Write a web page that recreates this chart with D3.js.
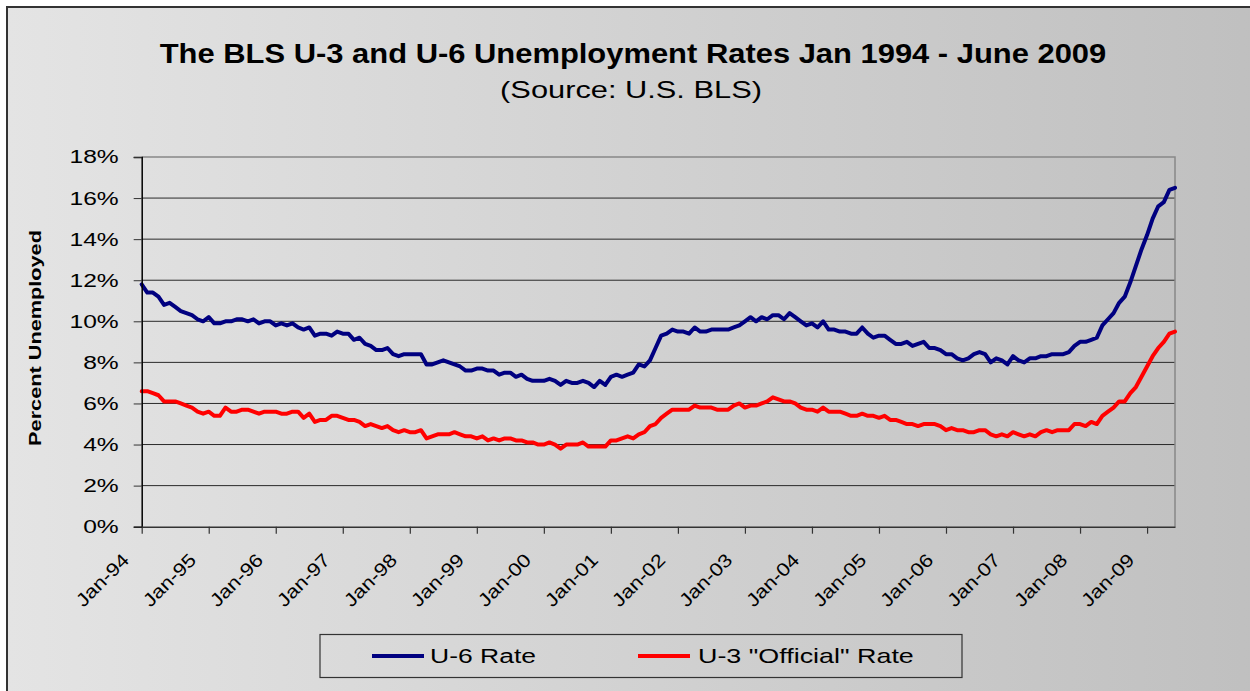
<!DOCTYPE html>
<html>
<head>
<meta charset="utf-8">
<script src="https://cdn.jsdelivr.net/npm/d3@7"></script>
<style>
  body { margin: 0; background: #fff; }
  svg text { font-family: "Liberation Sans", Arial, sans-serif; fill: #000; }
</style>
</head>
<body>
<svg id="chart" width="1250" height="691"></svg>
<script>
// monthly rates, Jan 1994 - Jun 2009 (percent)
const u6 = [
  11.8, 11.4, 11.4, 11.2, 10.8, 10.9, 10.7, 10.5, 10.4, 10.3, 10.1, 10.0,
  10.2, 9.9, 9.9, 10.0, 10.0, 10.1, 10.1, 10.0, 10.1, 9.9, 10.0, 10.0,
  9.8, 9.9, 9.8, 9.9, 9.7, 9.6, 9.7, 9.3, 9.4, 9.4, 9.3, 9.5,
  9.4, 9.4, 9.1, 9.2, 8.9, 8.8, 8.6, 8.6, 8.7, 8.4, 8.3, 8.4,
  8.4, 8.4, 8.4, 7.9, 7.9, 8.0, 8.1, 8.0, 7.9, 7.8, 7.6, 7.6,
  7.7, 7.7, 7.6, 7.6, 7.4, 7.5, 7.5, 7.3, 7.4, 7.2, 7.1, 7.1,
  7.1, 7.2, 7.1, 6.9, 7.1, 7.0, 7.0, 7.1, 7.0, 6.8, 7.1, 6.9,
  7.3, 7.4, 7.3, 7.4, 7.5, 7.9, 7.8, 8.1, 8.7, 9.3, 9.4, 9.6,
  9.5, 9.5, 9.4, 9.7, 9.5, 9.5, 9.6, 9.6, 9.6, 9.6, 9.7, 9.8,
  10.0, 10.2, 10.0, 10.2, 10.1, 10.3, 10.3, 10.1, 10.4, 10.2, 10.0, 9.8,
  9.9, 9.7, 10.0, 9.6, 9.6, 9.5, 9.5, 9.4, 9.4, 9.7, 9.4, 9.2,
  9.3, 9.3, 9.1, 8.9, 8.9, 9.0, 8.8, 8.9, 9.0, 8.7, 8.7, 8.6,
  8.4, 8.4, 8.2, 8.1, 8.2, 8.4, 8.5, 8.4, 8.0, 8.2, 8.1, 7.9,
  8.3, 8.1, 8.0, 8.2, 8.2, 8.3, 8.3, 8.4, 8.4, 8.4, 8.5, 8.8,
  9.0, 9.0, 9.1, 9.2, 9.8, 10.1, 10.4, 10.9, 11.2, 11.9, 12.7, 13.5,
  14.2, 15.0, 15.6, 15.8, 16.4, 16.5
];
const u3 = [
  6.6, 6.6, 6.5, 6.4, 6.1, 6.1, 6.1, 6.0, 5.9, 5.8, 5.6, 5.5,
  5.6, 5.4, 5.4, 5.8, 5.6, 5.6, 5.7, 5.7, 5.6, 5.5, 5.6, 5.6,
  5.6, 5.5, 5.5, 5.6, 5.6, 5.3, 5.5, 5.1, 5.2, 5.2, 5.4, 5.4,
  5.3, 5.2, 5.2, 5.1, 4.9, 5.0, 4.9, 4.8, 4.9, 4.7, 4.6, 4.7,
  4.6, 4.6, 4.7, 4.3, 4.4, 4.5, 4.5, 4.5, 4.6, 4.5, 4.4, 4.4,
  4.3, 4.4, 4.2, 4.3, 4.2, 4.3, 4.3, 4.2, 4.2, 4.1, 4.1, 4.0,
  4.0, 4.1, 4.0, 3.8, 4.0, 4.0, 4.0, 4.1, 3.9, 3.9, 3.9, 3.9,
  4.2, 4.2, 4.3, 4.4, 4.3, 4.5, 4.6, 4.9, 5.0, 5.3, 5.5, 5.7,
  5.7, 5.7, 5.7, 5.9, 5.8, 5.8, 5.8, 5.7, 5.7, 5.7, 5.9, 6.0,
  5.8, 5.9, 5.9, 6.0, 6.1, 6.3, 6.2, 6.1, 6.1, 6.0, 5.8, 5.7,
  5.7, 5.6, 5.8, 5.6, 5.6, 5.6, 5.5, 5.4, 5.4, 5.5, 5.4, 5.4,
  5.3, 5.4, 5.2, 5.2, 5.1, 5.0, 5.0, 4.9, 5.0, 5.0, 5.0, 4.9,
  4.7, 4.8, 4.7, 4.7, 4.6, 4.6, 4.7, 4.7, 4.5, 4.4, 4.5, 4.4,
  4.6, 4.5, 4.4, 4.5, 4.4, 4.6, 4.7, 4.6, 4.7, 4.7, 4.7, 5.0,
  5.0, 4.9, 5.1, 5.0, 5.4, 5.6, 5.8, 6.1, 6.1, 6.5, 6.8, 7.3,
  7.8, 8.3, 8.7, 9.0, 9.4, 9.5
];
const months = d3.timeMonth.range(new Date(1994, 0, 1), new Date(2009, 6, 1));
const tickLabels = ["Jan-94", "Jan-95", "Jan-96", "Jan-97", "Jan-98", "Jan-99", "Jan-00",
  "Jan-01", "Jan-02", "Jan-03", "Jan-04", "Jan-05", "Jan-06", "Jan-07", "Jan-08", "Jan-09"];
const yTicks = [0, 2, 4, 6, 8, 10, 12, 14, 16, 18];
const series = [
  { name: "U-6 Rate", values: u6, color: "#000080" },
  { name: "U-3 \"Official\" Rate", values: u3, color: "#ff0000" }
];

const svg = d3.select("#chart");
const width = +svg.attr("width");
const height = +svg.attr("height");
const margin = { top: 157, right: 75, bottom: 164.3, left: 141.7 };

// horizontal text, glyphs widened to a given total width
function wideText(parent, x, y, str, size, w, anchor, weight) {
  const t = parent.append("text")
    .attr("font-size", size)
    .attr("font-weight", weight || "normal")
    .attr("text-anchor", anchor || "start")
    .text(str);
  const k = w / t.node().getComputedTextLength();
  t.attr("transform", `translate(${x},${y}) scale(${k},1)`);
  return t;
}

const defs = svg.append("defs");
const grad = defs.append("linearGradient").attr("id", "bg")
  .attr("x1", "0%").attr("y1", "0%").attr("x2", "100%").attr("y2", "0%");
grad.append("stop").attr("offset", "0%").attr("stop-color", "#e4e4e4");
grad.append("stop").attr("offset", "100%").attr("stop-color", "#bfbfbf");

svg.append("rect")
  .attr("x", 7).attr("y", 7).attr("width", width + 20).attr("height", height + 20)
  .attr("fill", "url(#bg)").attr("stroke", "#333").attr("stroke-width", 2);

const x = d3.scalePoint()
  .domain(d3.range(months.length))
  .range([margin.left, width - margin.right]);

const y = d3.scaleLinear()
  .domain([0, 18])
  .range([height - margin.bottom, margin.top]);

// gridlines
svg.append("g")
  .selectAll("line")
  .data(yTicks.filter(d => d > 0 && d < 18))
  .join("line")
  .attr("x1", margin.left).attr("x2", width - margin.right)
  .attr("y1", d => y(d)).attr("y2", d => y(d))
  .attr("stroke", "#2a2a2a").attr("stroke-width", 1);

// plot frame (top and right)
svg.append("path")
  .attr("d", `M${margin.left},${y(18)}H${width - margin.right}V${y(0)}`)
  .attr("fill", "none").attr("stroke", "#888").attr("stroke-width", 1.5);

// lines
const line = d3.line()
  .x((d, i) => x(i))
  .y(d => y(d));

svg.append("g")
  .selectAll("path")
  .data(series)
  .join("path")
  .attr("d", d => line(d.values))
  .attr("fill", "none")
  .attr("stroke", d => d.color)
  .attr("stroke-width", 4)
  .attr("stroke-linejoin", "round")
  .attr("stroke-linecap", "round");

// y axis
const yAxis = svg.append("g")
  .attr("transform", `translate(${margin.left},0)`)
  .call(d3.axisLeft(y).tickValues(yTicks).tickFormat(d => d + "%").tickSize(8).tickPadding(15));
yAxis.select(".domain").attr("stroke", "#000").attr("stroke-width", 1.5);
yAxis.selectAll(".tick line").attr("stroke", "#333");
yAxis.selectAll(".tick text")
  .attr("font-size", 18.5)
  .attr("font-family", "Liberation Sans, Arial, sans-serif")
  .attr("x", 0)
  .attr("transform", "translate(-23,0) scale(1.33,1)");

// x axis
const xAxis = svg.append("g")
  .attr("transform", `translate(0,${y(0)})`)
  .call(d3.axisBottom(x)
    .tickValues(tickLabels.map((d, i) => i * 12))
    .tickFormat(d => tickLabels[d / 12])
    .tickSize(7)
    .tickSizeOuter(0));
xAxis.select(".domain").attr("stroke", "#333").attr("stroke-width", 1.5);
xAxis.selectAll(".tick line").attr("stroke", "#333").attr("stroke-width", 1.2);
xAxis.selectAll(".tick text")
  .attr("font-size", 18.5)
  .attr("font-family", "Liberation Sans, Arial, sans-serif")
  .attr("text-anchor", "end")
  .attr("dy", null)
  .attr("y", 0)
  .attr("transform", "translate(-12,34.5) rotate(-45) scale(1.17,1)");

// titles
wideText(svg, 633, 63, "The BLS U-3 and U-6 Unemployment Rates Jan 1994 - June 2009", 28, 947, "middle", "bold");
wideText(svg, 631, 98, "(Source: U.S. BLS)", 23, 262, "middle");

const yTitle = svg.append("text")
  .attr("text-anchor", "middle")
  .attr("font-size", 16.5).attr("font-weight", "bold")
  .text("Percent Unemployed");
yTitle.attr("transform", `translate(41,338) rotate(-90) scale(${216 / yTitle.node().getComputedTextLength()},1)`);

// legend
const legend = svg.append("g");
legend.append("rect")
  .attr("x", 320).attr("y", 634.5).attr("width", 642).attr("height", 43)
  .attr("fill", "none").attr("stroke", "#333").attr("stroke-width", 1.2);

const legendItems = [
  { s: series[0], x1: 372, x2: 424, tx: 430, tw: 106 },
  { s: series[1], x1: 638, x2: 690, tx: 698, tw: 216 }
];
legendItems.forEach(d => {
  legend.append("line")
    .attr("x1", d.x1).attr("x2", d.x2)
    .attr("y1", 656).attr("y2", 656)
    .attr("stroke", d.s.color).attr("stroke-width", 4);
  wideText(legend, d.tx, 663, d.s.name, 20, d.tw);
});
</script>
</body>
</html>
